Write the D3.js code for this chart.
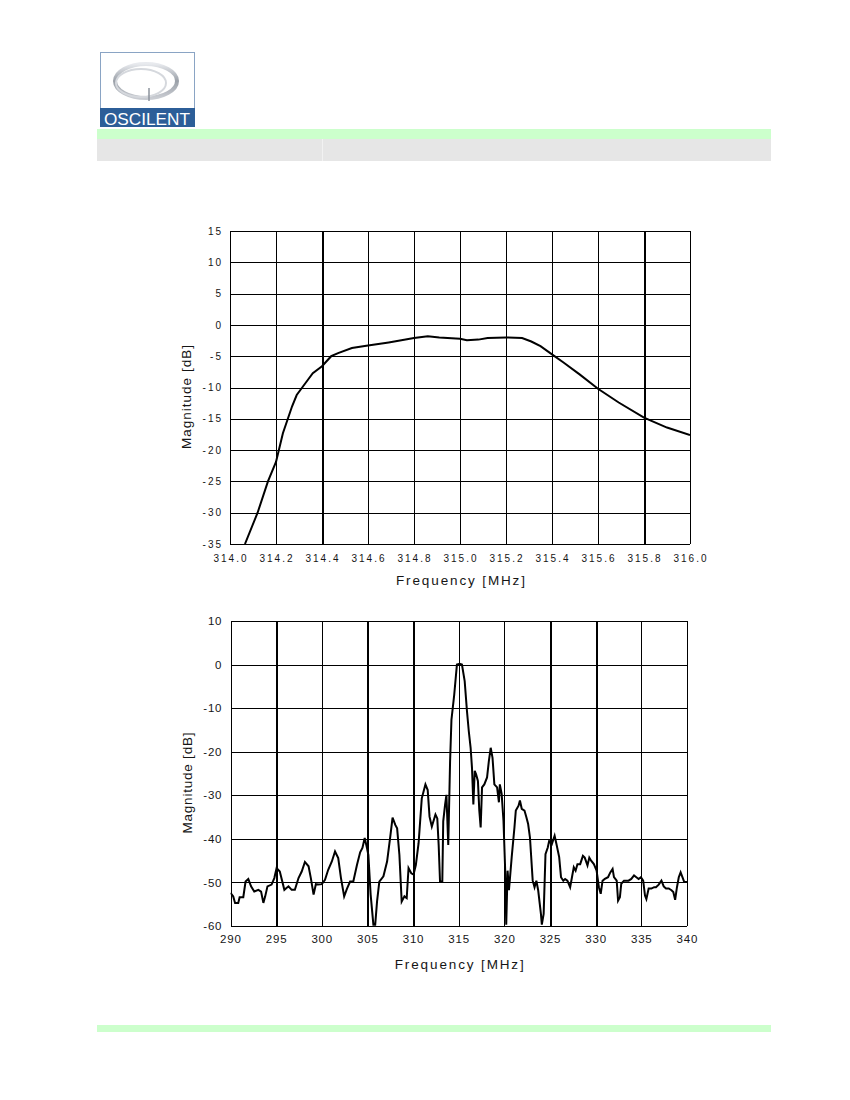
<!DOCTYPE html>
<html>
<head>
<meta charset="utf-8">
<script src="https://cdn.jsdelivr.net/npm/d3@7"></script>
<style>
  html, body { margin: 0; padding: 0; background: #fff; }
  svg { display: block; }
  text { font-family: "Liberation Sans", Arial, sans-serif; fill: #151515; }
</style>
</head>
<body>
<div id="app"></div>
<script>
// passband response, 314 - 316 MHz
const bandFreq = [314.065, 314.12, 314.165, 314.2, 314.23, 314.27, 314.29, 314.33, 314.36, 314.4,
  314.44, 314.47, 314.53, 314.6, 314.69, 314.8, 314.86, 314.91, 315.0, 315.03, 315.08, 315.12,
  315.2, 315.27, 315.31, 315.35, 315.4, 315.45, 315.52, 315.6, 315.69, 315.8, 315.9, 316.0];
const bandMag = [-35, -30, -25, -21.9, -17.3, -13, -11.2, -9.2, -7.7, -6.6,
  -5.0, -4.5, -3.7, -3.3, -2.8, -2.1, -1.8, -2.0, -2.2, -2.45, -2.35, -2.1,
  -2.0, -2.1, -2.65, -3.4, -4.7, -6.0, -7.9, -10.2, -12.4, -14.8, -16.4, -17.6];

// wideband response, 290 - 340 MHz
const wideFreq = [290.0, 290.3, 290.5, 290.85, 291.0, 291.4, 291.65, 291.95, 292.25, 292.6,
  293.05, 293.35, 293.6, 293.8, 294.05, 294.5, 294.8, 295.05, 295.4, 295.9,
  296.35, 296.7, 297.05, 297.45, 297.8, 298.15, 298.55, 298.8, 299.1, 299.35,
  299.6, 300.0, 300.35, 300.7, 301.1, 301.45, 301.8, 302.1, 302.45, 302.75,
  303.1, 303.45, 303.85, 304.2, 304.45, 304.7, 304.95, 305.1, 305.35, 305.65,
  305.85, 306.05, 306.3, 306.75, 307.15, 307.5, 307.75, 308.05, 308.25, 308.5,
  308.75, 309.05, 309.3, 309.5, 309.8, 310.05, 310.3, 310.6, 310.95, 311.35,
  311.6, 311.8, 312.05, 312.45, 312.65, 312.8, 312.95, 313.2, 313.3, 313.5,
  313.65, 313.85, 314.05, 314.2, 314.5, 314.8, 315.1, 315.35, 315.65, 315.9,
  316.1, 316.3, 316.45, 316.6, 316.75, 316.9, 317.1, 317.25, 317.4, 317.55,
  317.8, 318.1, 318.3, 318.5, 318.7, 318.9, 319.2, 319.4, 319.5, 319.7,
  319.9, 320.1, 320.2, 320.35, 320.5, 320.8, 321.1, 321.25, 321.55, 321.7,
  321.9, 322.2, 322.4, 322.6, 322.8, 323.1, 323.3, 323.5, 323.7, 324.0,
  324.1, 324.3, 324.5, 324.75, 324.9, 325.2, 325.5, 325.7, 326.0, 326.2,
  326.45, 326.65, 326.9, 327.2, 327.4, 327.6, 327.8, 328.0, 328.3, 328.6,
  328.8, 329.1, 329.3, 329.5, 329.8, 330.1, 330.35, 330.55, 330.75, 331.0,
  331.35, 331.6, 331.85, 332.0, 332.3, 332.45, 332.65, 332.8, 333.1, 333.35,
  333.6, 333.9, 334.2, 334.45, 334.7, 334.95, 335.2, 335.4, 335.55, 335.8,
  336.1, 336.4, 336.6, 336.9, 337.2, 337.45, 337.7, 338.0, 338.3, 338.5,
  338.7, 338.9, 339.1, 339.3, 339.5, 339.7, 340.0];
const wideMag = [-52.4, -53.2, -54.7, -54.7, -53.4, -53.4, -49.8, -49.2, -50.9, -52.1,
  -51.7, -52.1, -54.7, -53.2, -50.9, -50.5, -49.0, -46.7, -47.5, -51.7,
  -50.9, -51.7, -51.7, -49.0, -47.5, -45.3, -46.3, -49.0, -52.8, -50.4,
  -50.5, -50.4, -49.4, -47.1, -45.2, -42.9, -44.4, -49.0, -53.2, -51.5,
  -49.8, -49.8, -46.0, -43.1, -42.1, -39.8, -42.1, -43.7, -52.8, -59.7,
  -59.7, -54.4, -49.8, -48.6, -45.2, -39.5, -35.1, -36.8, -37.6, -43.7,
  -54.4, -53.2, -53.6, -46.7, -47.9, -48.2, -46.0, -41.0, -30.7, -27.5,
  -28.8, -34.9, -37.2, -34.4, -35.3, -41.4, -49.8, -49.8, -36.0, -32.2,
  -29.9, -41.4, -22.3, -12.7, -7.0, 0.0, 0.2, 0.0, -3.8, -10.7,
  -15.3, -19.1, -23.7, -32.1, -24.4, -25.2, -26.7, -33.5, -37.4, -28.2,
  -27.5, -25.9, -22.1, -19.1, -21.4, -27.5, -28.2, -31.6, -27.5, -29.7,
  -35.9, -48.0, -59.7, -47.3, -51.8, -44.2, -37.4, -33.5, -32.4, -31.2,
  -33.1, -33.5, -35.0, -36.6, -39.7, -49.6, -51.1, -49.6, -51.8, -57.2,
  -59.7, -57.2, -43.5, -42.0, -40.5, -41.2, -39.3, -41.2, -44.2, -48.8,
  -49.6, -49.2, -49.6, -51.1, -48.8, -46.5, -47.3, -45.8, -45.8, -43.9,
  -44.3, -46.1, -44.3, -45.0, -45.8, -47.3, -51.1, -52.6, -49.6, -49.2,
  -48.8, -47.7, -46.9, -48.8, -49.6, -54.2, -53.4, -50.3, -49.6, -49.6,
  -49.6, -49.2, -48.4, -48.8, -49.2, -48.8, -49.6, -53.0, -53.8, -51.4,
  -51.4, -51.1, -51.1, -50.5, -49.6, -50.9, -51.4, -51.4, -51.8, -52.2,
  -54.0, -51.1, -48.8, -47.7, -48.8, -49.9, -49.9];

// tick labels
const bandXTicks = ["314.0", "314.2", "314.4", "314.6", "314.8", "315.0", "315.2", "315.4", "315.6", "315.8", "316.0"];
const bandYTicks = ["15", "10", "5", "0", "-5", "-10", "-15", "-20", "-25", "-30", "-35"];
const wideXTicks = ["290", "295", "300", "305", "310", "315", "320", "325", "330", "335", "340"];
const wideYTicks = ["10", "0", "-10", "-20", "-30", "-40", "-50", "-60"];

const xTitle = "Frequency [MHz]";
const yTitle = "Magnitude [dB]";

const W = 850, H = 1100;

const svg = d3.select('#app')
  .append('svg')
  .attr('width', W)
  .attr('height', H)
  .attr('viewBox', [0, 0, W, H]);

// ---------- page furniture ----------
const defs = svg.append('defs');
const ringGrad = defs.append('linearGradient')
  .attr('id', 'ring').attr('x1', 0).attr('y1', 0).attr('x2', 0).attr('y2', 1);
ringGrad.append('stop').attr('offset', 0).attr('stop-color', '#e8eaee');
ringGrad.append('stop').attr('offset', 0.5).attr('stop-color', '#9aa0a8');
ringGrad.append('stop').attr('offset', 1).attr('stop-color', '#c9ccd2');

const logo = svg.append('g');
logo.append('rect')
  .attr('x', 100.5).attr('y', 52.5).attr('width', 94).attr('height', 74)
  .attr('fill', '#fff').attr('stroke', '#8aa4c4');
logo.append('ellipse')
  .attr('cx', 146).attr('cy', 81).attr('rx', 31).attr('ry', 17)
  .attr('fill', 'none').attr('stroke', 'url(#ring)').attr('stroke-width', 4);
logo.append('ellipse')
  .attr('cx', 141).attr('cy', 83).attr('rx', 25).attr('ry', 14)
  .attr('fill', 'none').attr('stroke', '#d5d8dd').attr('stroke-width', 2);
logo.append('line')
  .attr('x1', 149).attr('x2', 149).attr('y1', 88).attr('y2', 101)
  .attr('stroke', '#8c939c').attr('stroke-width', 1.5);
logo.append('rect')
  .attr('x', 100).attr('y', 108).attr('width', 95).attr('height', 19)
  .attr('fill', '#2c5e98');
logo.append('text')
  .attr('x', 104).attr('y', 124.5)
  .attr('textLength', 86).attr('lengthAdjust', 'spacingAndGlyphs')
  .style('font-size', '17px').style('fill', '#fff')
  .text('OSCILENT');

svg.append('rect').attr('x', 97).attr('y', 129).attr('width', 674).attr('height', 10).attr('fill', '#ccffcc');
svg.append('rect').attr('x', 97).attr('y', 139).attr('width', 674).attr('height', 22).attr('fill', '#e6e6e6');
svg.append('rect').attr('x', 322).attr('y', 139).attr('width', 1).attr('height', 22).attr('fill', '#f2f2f2');
svg.append('rect').attr('x', 97).attr('y', 1025).attr('width', 674).attr('height', 7).attr('fill', '#ccffcc');

// ---------- chart helper ----------
function drawChart(cfg) {
  const { x, y, xTicks, yTicks, boldX, freq, mag, tickSize, tickSpacing, xLabelY, titleY, yTitleX, yTitleLen } = cfg;
  const [x0, x1] = x.range();
  const [y0, y1] = y.range();
  const g = svg.append('g');

  // grid
  g.append('g')
    .selectAll('line')
    .data(xTicks.map(Number))
    .join('line')
    .attr('x1', d => Math.round(x(d)) + 0.5)
    .attr('x2', d => Math.round(x(d)) + 0.5)
    .attr('y1', y1).attr('y2', y0)
    .attr('stroke', '#000')
    .attr('stroke-width', d => boldX.includes(d) ? 2 : 1.1)
    .attr('shape-rendering', 'crispEdges');

  g.append('g')
    .selectAll('line')
    .data(yTicks.map(Number))
    .join('line')
    .attr('x1', x0).attr('x2', x1)
    .attr('y1', d => Math.round(y(d)) + 0.5)
    .attr('y2', d => Math.round(y(d)) + 0.5)
    .attr('stroke', '#000')
    .attr('stroke-width', 1.1)
    .attr('shape-rendering', 'crispEdges');

  // tick labels
  g.append('g')
    .selectAll('text')
    .data(xTicks)
    .join('text')
    .attr('x', d => x(+d) + tickSpacing / 2)
    .attr('y', xLabelY)
    .attr('text-anchor', 'middle')
    .style('font-size', tickSize + 'px')
    .style('letter-spacing', tickSpacing + 'px')
    .text(d => d);

  g.append('g')
    .selectAll('text')
    .data(yTicks)
    .join('text')
    .attr('x', x0 - 9 + tickSpacing)
    .attr('y', d => y(+d))
    .attr('dy', '0.36em')
    .attr('text-anchor', 'end')
    .style('font-size', tickSize + 'px')
    .style('letter-spacing', tickSpacing + 'px')
    .text(d => d);

  // titles
  g.append('text')
    .attr('x', (x0 + x1) / 2 - 64)
    .attr('y', titleY)
    .attr('textLength', 129).attr('lengthAdjust', 'spacing')
    .style('font-size', '13.5px')
    .text(xTitle);

  g.append('text')
    .attr('transform', `translate(${yTitleX},${cfg.yTitleMid + yTitleLen / 2}) rotate(-90)`)
    .attr('textLength', yTitleLen).attr('lengthAdjust', 'spacing')
    .style('font-size', '13.5px')
    .text(yTitle);

  // curve
  const clipId = 'clip' + Math.round(y1);
  svg.select('defs').append('clipPath').attr('id', clipId)
    .append('rect').attr('x', x0).attr('y', y1).attr('width', x1 - x0).attr('height', y0 - y1);

  const line = d3.line()
    .x(i => x(freq[i]))
    .y(i => y(mag[i]));

  g.append('path')
    .attr('clip-path', `url(#${clipId})`)
    .attr('d', line(d3.range(freq.length)))
    .attr('fill', 'none')
    .attr('stroke', '#000')
    .attr('stroke-width', 2)
    .attr('stroke-linejoin', 'miter');
}

drawChart({
  x: d3.scaleLinear().domain([314, 316]).range([230, 690]),
  y: d3.scaleLinear().domain([-35, 15]).range([544, 231]),
  xTicks: bandXTicks,
  yTicks: bandYTicks,
  boldX: [314.4, 315.8],
  freq: bandFreq,
  mag: bandMag,
  tickSize: 10,
  tickSpacing: 2,
  xLabelY: 561.5,
  titleY: 585,
  yTitleX: 191,
  yTitleMid: 397,
  yTitleLen: 104
});

drawChart({
  x: d3.scaleLinear().domain([290, 340]).range([230.5, 687]),
  y: d3.scaleLinear().domain([-60, 10]).range([926, 621]),
  xTicks: wideXTicks,
  yTicks: wideYTicks,
  boldX: [295, 305, 310, 325, 330],
  freq: wideFreq,
  mag: wideMag,
  tickSize: 11.5,
  tickSpacing: 0.8,
  xLabelY: 942.5,
  titleY: 969,
  yTitleX: 192,
  yTitleMid: 783,
  yTitleLen: 101
});
</script>
</body>
</html>
